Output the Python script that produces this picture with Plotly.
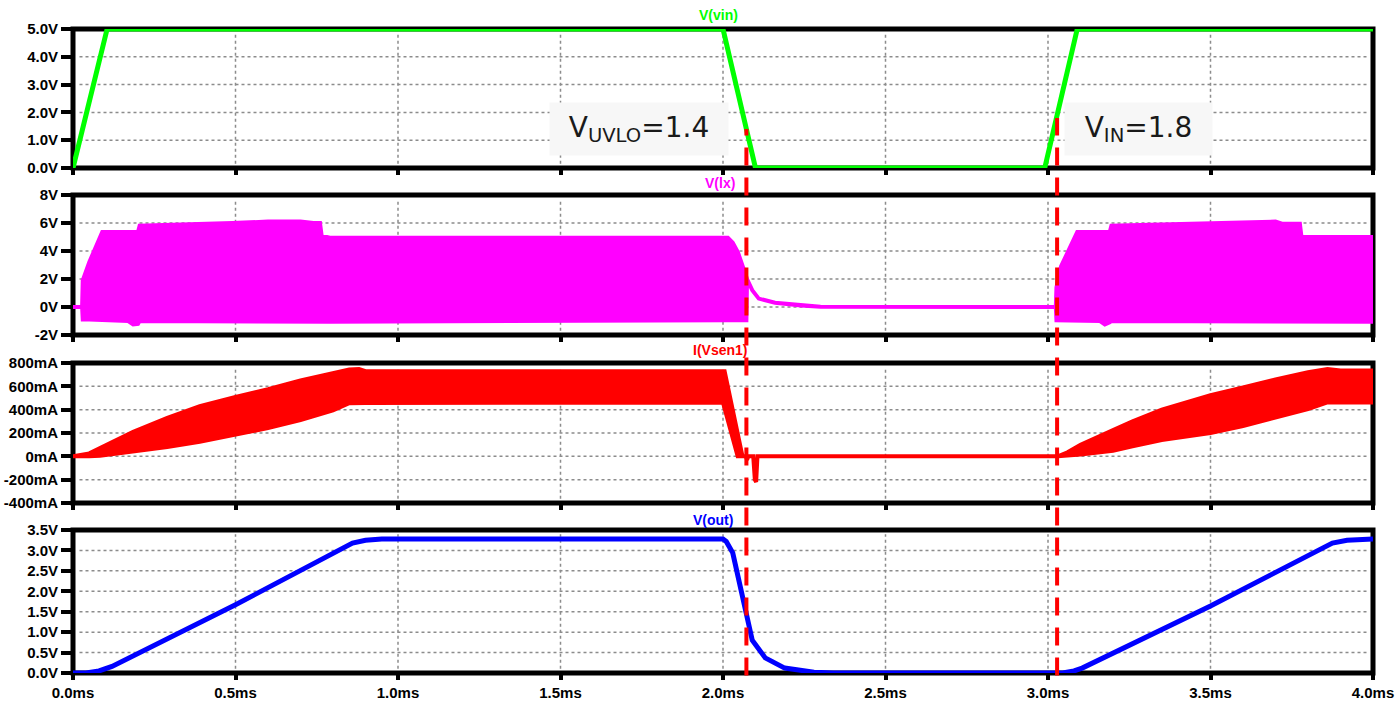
import plotly.graph_objects as go

# ---------------- data ----------------
t_vin = [0.0, 0.105, 2.0, 2.1, 2.99, 3.09, 4.0]
v_vin = [0.0, 5.0, 5.0, 0.0, 0.0, 5.0, 5.0]

t_lx = [0, 0.028, 0.03, 0.05, 0.09, 0.17, 0.185, 0.2, 0.205, 0.3,
        0.49, 0.6, 0.7, 0.74, 0.76, 0.765, 0.79, 2.015, 2.03, 2.046,
        2.06, 2.072, 2.074, 2.09, 2.11, 2.16, 2.24, 2.3, 3.024, 3.026,
        3.04, 3.09, 3.16, 3.175, 3.19, 3.195, 3.4, 3.57, 3.7, 3.72,
        3.775, 3.78, 4.0]
lx_hi = [0, 0, 1.9, 3.2, 5.35, 5.35, 5.35, 5.35, 5.8, 5.85,
         6.0, 6.1, 6.1, 6.0, 6.0, 5.1, 4.95, 4.95, 4.6, 3.9,
         2.9, 2.2, 2.0, 1.2, 0.6, 0.3, 0.1, 0.02, 0, 1.4,
         2.9, 5.35, 5.35, 5.35, 5.35, 5.8, 5.9, 6.05, 6.1, 5.95,
         5.95, 5.0, 5.0]
lx_lo = [0, 0, -0.9, -0.9, -0.9, -1.0, -1.25, -1.2, -1.0, -1.0,
         -1.0, -1.05, -1.05, -1.05, -1.05, -1.05, -1.05, -0.95, -0.95, -0.95,
         -0.95, -0.95, 2.0, 1.2, 0.6, 0.3, 0.1, 0.02, 0, -0.95,
         -0.95, -0.95, -1.0, -1.25, -1.1, -1.0, -1.05, -1.05, -1.05, -1.05,
         -1.05, -1.05, -1.05]

t_isen = [0, 0.05, 0.083, 0.185, 0.29, 0.39, 0.5, 0.6, 0.7, 0.8,
          0.85, 0.88, 0.9, 2.0, 2.005, 2.02, 2.045, 2.06, 2.07, 2.074,
          2.078, 2.093, 2.098, 2.102, 2.106, 3.03, 3.06, 3.1, 3.2, 3.26,
          3.35, 3.5, 3.6, 3.7, 3.8, 3.86, 3.9, 4.0]
isen_hi = [0, 25, 70, 210, 330, 430, 510, 575, 650, 715,
           745, 748, 730, 730, 730, 530, 200, 0, 0, -30,
           0, 0, -200, -220, 0, 0, 35, 100, 225, 300,
           400, 525, 590, 660, 720, 748, 735, 735]
isen_lo = [0, 0, 5, 38, 80, 125, 183, 242, 310, 395,
           455, 458, 458, 460, 409, 255, 0, 0, 0, -30,
           0, 0, -200, -220, 0, 0, 5, 15, 48, 85,
           140, 200, 260, 330, 405, 462, 462, 462]

t_out = [0, 0.04, 0.08, 0.12, 0.5, 0.86, 0.9, 0.95, 2.0, 2.01, 2.03, 2.07,
         2.09, 2.13, 2.19, 2.28, 2.34, 3.045, 3.08, 3.105, 3.5, 3.875, 3.92, 4.0]
v_out = [0, 0, 0.05, 0.16, 1.67, 3.18, 3.25, 3.28, 3.28, 3.22, 2.94, 1.54,
         0.8, 0.37, 0.12, 0.02, 0, 0, 0.05, 0.12, 1.64, 3.18, 3.25, 3.28]

x_tick_vals = [0.0, 0.5, 1.0, 1.5, 2.0, 2.5, 3.0, 3.5, 4.0]
x_tick_text = ["0.0ms", "0.5ms", "1.0ms", "1.5ms", "2.0ms", "2.5ms", "3.0ms", "3.5ms", "4.0ms"]
vin_tick_vals = [0, 1, 2, 3, 4, 5]
vin_tick_text = ["0.0V", "1.0V", "2.0V", "3.0V", "4.0V", "5.0V"]
lx_tick_vals = [-2, 0, 2, 4, 6, 8]
lx_tick_text = ["-2V", "0V", "2V", "4V", "6V", "8V"]
isen_tick_vals = [-400, -200, 0, 200, 400, 600, 800]
isen_tick_text = ["-400mA", "-200mA", "0mA", "200mA", "400mA", "600mA", "800mA"]
out_tick_vals = [0, 0.5, 1.0, 1.5, 2.0, 2.5, 3.0, 3.5]
out_tick_text = ["0.0V", "0.5V", "1.0V", "1.5V", "2.0V", "2.5V", "3.0V", "3.5V"]

panel_titles = ["V(vin)", "V(lx)", "I(Vsen1)", "V(out)"]
panel_colors = ["#00ff00", "#ff00ff", "#ff0000", "#0000ff"]
panel_ranges = [[0, 5], [-2, 8], [-400, 800], [0, 3.5]]

uvlo_time, uvlo_level = 2.072, 1.4
vin_on_time, vin_on_level = 3.028, 1.8

# ---------------- layout geometry ----------------
W, H = 1400, 708
PL, PR, PT, PB = 73, 1373, 29, 673          # plot area in page pixels
ML, MR, MT, MB = PL, W - PR, PT, H - PB
PW, PH = PR - PL, PB - PT
panel_px = [(29, 168), (195, 335), (363, 503), (530, 673)]  # top, bottom
domains = [[(PB - b) / PH, (PB - t) / PH] for t, b in panel_px]


def px_to_paper(px, py):
    return (px - PL) / PW, (PB - py) / PH


fig = go.Figure()

fig.add_trace(go.Scatter(x=t_vin, y=v_vin, mode="lines", xaxis="x", yaxis="y",
                         line=dict(color=panel_colors[0], width=5), hoverinfo="skip"))
fig.add_trace(go.Scatter(x=t_lx + t_lx[::-1], y=lx_hi + lx_lo[::-1], mode="lines",
                         xaxis="x2", yaxis="y2", fill="toself", fillcolor=panel_colors[1],
                         line=dict(color=panel_colors[1], width=4), hoverinfo="skip"))
fig.add_trace(go.Scatter(x=t_isen + t_isen[::-1], y=isen_hi + isen_lo[::-1], mode="lines",
                         xaxis="x3", yaxis="y3", fill="toself", fillcolor=panel_colors[2],
                         line=dict(color=panel_colors[2], width=4), hoverinfo="skip"))
fig.add_trace(go.Scatter(x=t_out, y=v_out, mode="lines", xaxis="x4", yaxis="y4",
                         line=dict(color=panel_colors[3], width=5), hoverinfo="skip"))

tick_font = dict(family="Liberation Sans, Arial", size=15, color="black", weight="bold")
y_ticks = [(vin_tick_vals, vin_tick_text), (lx_tick_vals, lx_tick_text),
           (isen_tick_vals, isen_tick_text), (out_tick_vals, out_tick_text)]
grid_y = [[1, 2, 3, 4], [0, 2, 4, 6], [-200, 0, 200, 400, 600], [0.5, 1, 1.5, 2, 2.5, 3]]

layout = dict(
    width=W, height=H,
    margin=dict(l=ML, r=MR, t=MT, b=MB, autoexpand=False),
    paper_bgcolor="white", plot_bgcolor="white", showlegend=False,
)
shapes = []
for i in range(4):
    n = "" if i == 0 else str(i + 1)
    xa = dict(domain=[0, 1], range=[0, 4], anchor="y" + n, showgrid=False,
              zeroline=False, showline=False, tickvals=x_tick_vals,
              ticktext=x_tick_text, ticks="outside", ticklen=6, tickwidth=4,
              tickcolor="black", showticklabels=(i == 3), tickfont=tick_font,
              layer="below traces", fixedrange=True, automargin=False)
    if i > 0:
        xa["matches"] = "x"
    ya = dict(domain=domains[i], range=panel_ranges[i], anchor="x" + n,
              showgrid=False, zeroline=False, showline=False,
              tickvals=y_ticks[i][0], ticktext=y_ticks[i][1], ticks="outside",
              ticklen=11, tickwidth=4, tickcolor="black", tickfont=tick_font,
              layer="below traces", fixedrange=True, automargin=False)
    layout["xaxis" + n] = xa
    layout["yaxis" + n] = ya
    for gx in x_tick_vals[1:-1]:
        shapes.append(dict(type="line", xref="x" + n, yref="y" + n + " domain",
                           x0=gx, x1=gx, y0=0.03, y1=0.97, layer="below",
                           line=dict(color="#8c8c8c", width=1.5, dash="3px,3px")))
    for gy in grid_y[i]:
        shapes.append(dict(type="line", xref="x" + n + " domain", yref="y" + n,
                           x0=0.005, x1=0.995, y0=gy, y1=gy, layer="below",
                           line=dict(color="#8c8c8c", width=1.5, dash="3px,3px")))
    shapes.append(dict(type="rect", xref="x" + n + " domain", yref="y" + n + " domain",
                       x0=0, x1=1, y0=0, y1=1, layer="below",
                       line=dict(color="black", width=5)))

d0, d1 = domains[0]
for tm, lvl in [(uvlo_time, uvlo_level), (vin_on_time, vin_on_level)]:
    ytop = d0 + (lvl / panel_ranges[0][1]) * (d1 - d0)
    shapes.append(dict(type="line", xref="x", yref="paper", x0=tm, x1=tm,
                       y0=-0.004, y1=ytop, layer="above",
                       line=dict(color="#ff0000", width=4, dash="18px,12px")))

layout["shapes"] = shapes

title_pos = [(718, 15), (720, 183), (720, 350), (713, 520)]
annotations = []
for (px, py), txt, col in zip(title_pos, panel_titles, panel_colors):
    ax, ay = px_to_paper(px, py)
    annotations.append(dict(text=txt, xref="paper", yref="paper", x=ax, y=ay,
                            xanchor="center", yanchor="middle", showarrow=False,
                            font=dict(family="Liberation Sans, Arial", size=14,
                                      color=col, weight="bold")))

note_font = dict(family="DejaVu Sans", size=28, color="#1a1a1a")
for txt, cx, w in [("V<sub>UVLO</sub>=1.4", 639, 178), ("V<sub>IN</sub>=1.8", 1138, 147)]:
    ax, ay = px_to_paper(cx, 129)
    annotations.append(dict(text=txt, xref="paper", yref="paper", x=ax, y=ay,
                            xanchor="center", yanchor="middle", showarrow=False,
                            width=w, height=52, borderpad=0, bgcolor="#f7f7f7",
                            align="center", valign="middle", font=note_font))
layout["annotations"] = annotations

fig.update_layout(**layout)
# remove the browser's default 8px body margin so the figure fills the window
fig.write_html("out.html", config={"displayModeBar": False},
               post_script="document.body.style.margin='0';document.body.style.overflow='hidden';")
